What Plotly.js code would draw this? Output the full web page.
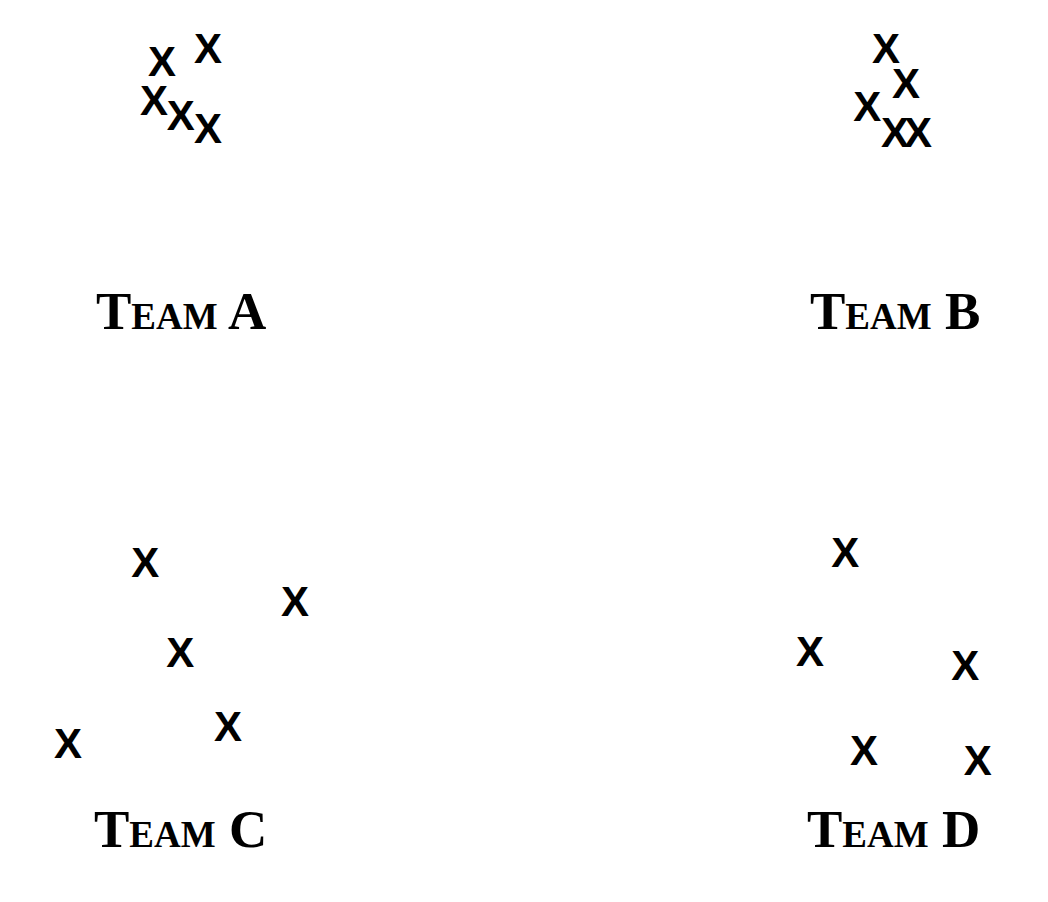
<!DOCTYPE html>
<html>
<head>
<meta charset="utf-8">
<script src="https://cdn.plot.ly/plotly-3.0.1.min.js"></script>
<style>html,body{margin:0;padding:0;background:#fff;}#chart{width:1048px;height:902px;}</style>
</head>
<body>
<div id="chart"></div>
<script>
// Data (each team on its own 0–10 panel)
const teams = ["Team A", "Team B", "Team C", "Team D"];
const teamAX = [3.09, 3.97, 2.94, 3.45, 3.97];
const teamAY = [8.55, 8.83, 7.68, 7.35, 7.06];
const teamBX = [6.91, 7.29, 6.55, 7.08, 7.52];
const teamBY = [8.83, 8.06, 7.55, 6.97, 6.97];
const teamCX = [2.77, 5.63, 3.44, 4.35, 1.30];
const teamCY = [7.44, 6.57, 5.44, 3.80, 3.42];
const teamDX = [6.13, 5.46, 8.42, 6.49, 8.66];
const teamDY = [7.66, 5.46, 5.15, 3.27, 3.05];
const labelX = [3.45, 7.08, 3.45, 7.06];
const labelY = [3.10, 3.10, 1.62, 1.62];
const markerSymbol = "X";

const xs = [teamAX, teamBX, teamCX, teamDX];
const ys = [teamAY, teamBY, teamCY, teamDY];
const axisIds = ["", "2", "3", "4"];
const domainsX = [[0, 0.5], [0.5, 1], [0, 0.5], [0.5, 1]];
const domainsY = [[0.5, 1], [0.5, 1], [0, 0.5], [0, 0.5]];

const traces = xs.map((x, i) => ({
  type: "scatter",
  mode: "text",
  x: x,
  y: ys[i],
  text: x.map(() => markerSymbol),
  textposition: "middle center",
  textfont: {family: "Liberation Sans, Arial, sans-serif", size: 42, color: "#000", weight: "bold"},
  xaxis: "x" + axisIds[i],
  yaxis: "y" + axisIds[i],
  name: teams[i],
  hoverinfo: "skip",
  showlegend: false
}));

const layout = {
  width: 1048,
  height: 902,
  margin: {l: 0, r: 0, t: 0, b: 0},
  paper_bgcolor: "#fff",
  plot_bgcolor: "#fff",
  showlegend: false,
  annotations: teams.map((t, i) => ({
    text: t,
    x: labelX[i],
    y: labelY[i],
    xref: "x" + axisIds[i],
    yref: "y" + axisIds[i],
    showarrow: false,
    xanchor: "center",
    yanchor: "middle",
    font: {family: "Liberation Serif, Times New Roman, serif", size: 53, color: "#000", weight: "bold", variant: "small-caps"}
  }))
};
axisIds.forEach((id, i) => {
  layout["xaxis" + id] = {domain: domainsX[i], range: [0, 10], visible: false, fixedrange: true, anchor: "y" + id};
  layout["yaxis" + id] = {domain: domainsY[i], range: [0, 10], visible: false, fixedrange: true, anchor: "x" + id};
});

Plotly.newPlot("chart", traces, layout, {displayModeBar: false, staticPlot: true});
</script>
</body>
</html>
